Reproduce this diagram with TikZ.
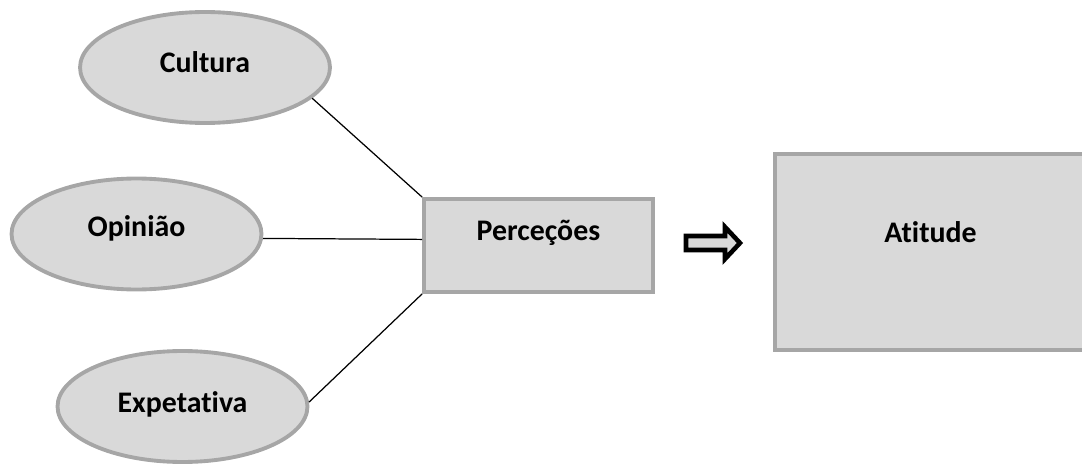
\documentclass[tikz,border=0pt]{standalone}
\usepackage{fontspec}
\setmainfont{Carlito}[Ligatures=NoCommon]
\usepackage{tikz}
\usetikzlibrary{shapes.geometric}
\definecolor{boxfill}{HTML}{D9D9D9}
\definecolor{boxline}{HTML}{A6A6A6}

\begin{document}
\begin{tikzpicture}[x=0.02cm,y=-0.02cm,
    factor/.style={ellipse,draw=boxline,fill=boxfill,line width=2.2pt,
      minimum width=5cm,minimum height=2.22cm,inner sep=0pt},
    bloco/.style={rectangle,draw=boxline,fill=boxfill,line width=2.2pt,inner sep=0pt},
    rotulo/.style={font=\fontsize{17}{20}\selectfont\bfseries},
    liga/.style={line width=0.7pt}]
  \useasboundingbox (0,0) rectangle (1082,466);

  \node[factor,label={[rotulo,yshift=0.11cm]center:Cultura}] (cultura) at (205,67.5) {};
  \node[factor,label={[rotulo,yshift=0.12cm]center:Opinião}] (opiniao) at (136.5,234) {};
  \node[factor,label={[rotulo,yshift=0.05cm]center:Expetativa}] (expetativa) at (182.5,406.5) {};

  \node[bloco,minimum width=4.58cm,minimum height=1.86cm,
    label={[rotulo,yshift=0.25cm]center:Perceções}] (percecoes) at (538.5,245.5) {};
  \node[bloco,minimum width=6.22cm,minimum height=3.92cm,
    label={[rotulo,yshift=0.4cm]center:Atitude}] (atitude) at (930.5,252) {};

  \draw[liga] (cultura.-16) -- (percecoes.north west);
  \draw[liga] (opiniao.-2) -- (percecoes.177);
  \draw[liga] (expetativa.2) -- (percecoes.south west);

  \draw[line width=2.6pt,line join=miter,fill=boxfill]
    (686,236) -- (725,236) -- (725,227) -- (740,243) -- (725,259)
    -- (725,250) -- (686,250) -- cycle;
\end{tikzpicture}
\end{document}
